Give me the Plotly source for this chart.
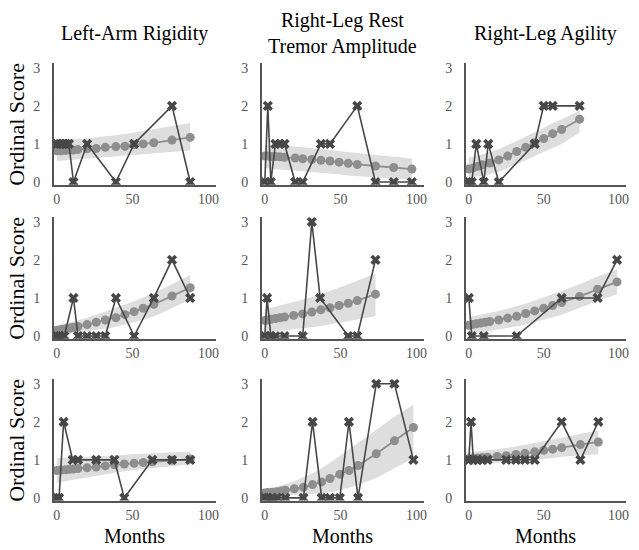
import plotly.graph_objects as go
from plotly.subplots import make_subplots

# ---------------- data ----------------
titles = ["Left-Arm Rigidity", "Right-Leg Rest<br>Tremor Amplitude", "Right-Leg Agility"]
x_ticks = [0, 50, 100]
y_ticks = [0, 1, 2, 3]

# Panel (row, col) data: observed months/values, predicted months/values, band lower/upper
obs_t_11 = [0, 2, 4, 6, 8, 11, 20, 39, 51, 76, 88]
obs_v_11 = [1, 1, 1, 1, 1, 0, 1, 0, 1, 2, 0]
pred_t_11 = [0, 3, 6, 9, 11, 14, 20, 26, 32, 39, 45, 51, 57, 64, 76, 88]
pred_v_11 = [0.82, 0.82, 0.83, 0.84, 0.84, 0.85, 0.87, 0.88, 0.91, 0.93, 0.94, 0.98, 1.0, 1.03, 1.1, 1.17]
lo_11 = [0.55, 0.56, 0.57, 0.58, 0.59, 0.6, 0.62, 0.64, 0.66, 0.68, 0.7, 0.72, 0.74, 0.76, 0.79, 0.83]
hi_11 = [1.1, 1.1, 1.11, 1.12, 1.12, 1.13, 1.15, 1.17, 1.2, 1.23, 1.26, 1.3, 1.33, 1.37, 1.46, 1.55]

obs_t_12 = [0, 2, 4, 7, 10, 13, 20, 25, 37, 43, 61, 73, 85, 97]
obs_v_12 = [0, 2, 0, 1, 1, 1, 0, 0, 1, 1, 2, 0, 0, 0]
pred_t_12 = [0, 2, 4, 7, 10, 13, 20, 25, 31, 37, 43, 49, 55, 61, 73, 85, 97]
pred_v_12 = [0.68, 0.68, 0.67, 0.67, 0.66, 0.65, 0.63, 0.61, 0.59, 0.57, 0.55, 0.52, 0.49, 0.46, 0.42, 0.38, 0.34]
lo_12 = [0.36, 0.36, 0.35, 0.34, 0.33, 0.32, 0.3, 0.28, 0.26, 0.24, 0.22, 0.2, 0.17, 0.15, 0.11, 0.08, 0.05]
hi_12 = [0.98, 0.98, 0.97, 0.96, 0.96, 0.95, 0.93, 0.91, 0.89, 0.87, 0.85, 0.82, 0.79, 0.76, 0.71, 0.66, 0.62]

obs_t_13 = [0, 2, 5, 10, 13, 20, 44, 50, 56, 74]
obs_v_13 = [0, 0, 1, 0, 1, 0, 1, 2, 2, 2]
pred_t_13 = [0, 3, 6, 9, 14, 20, 26, 32, 38, 44, 50, 56, 62, 74]
pred_v_13 = [0.34, 0.37, 0.41, 0.45, 0.5, 0.58, 0.68, 0.8, 0.91, 1.03, 1.14, 1.27, 1.38, 1.65]
lo_13 = [0.1, 0.11, 0.13, 0.16, 0.2, 0.27, 0.36, 0.47, 0.57, 0.68, 0.78, 0.9, 1.0, 1.3]
hi_13 = [0.64, 0.66, 0.69, 0.73, 0.78, 0.86, 0.97, 1.08, 1.19, 1.3, 1.42, 1.55, 1.65, 1.88]

obs_t_21 = [0, 2, 5, 11, 14, 20, 26, 32, 39, 51, 64, 76, 88]
obs_v_21 = [0, 0, 0, 1, 0, 0, 0, 0, 1, 0, 1, 2, 1]
pred_t_21 = [0, 3, 6, 9, 11, 14, 20, 26, 32, 39, 45, 51, 57, 64, 76, 88]
pred_v_21 = [0.15, 0.17, 0.19, 0.21, 0.23, 0.25, 0.3, 0.36, 0.42, 0.48, 0.56, 0.64, 0.73, 0.83, 1.05, 1.27]
lo_21 = [0.03, 0.04, 0.05, 0.06, 0.07, 0.08, 0.11, 0.15, 0.19, 0.24, 0.3, 0.36, 0.43, 0.51, 0.72, 0.95]
hi_21 = [0.28, 0.3, 0.33, 0.36, 0.38, 0.41, 0.48, 0.56, 0.64, 0.73, 0.82, 0.91, 1.01, 1.12, 1.36, 1.6]

obs_t_22 = [0, 1.5, 4, 7, 13, 25, 31, 36.5, 55, 61, 73]
obs_v_22 = [0, 1, 0, 0, 0, 0, 3, 1, 0, 0, 2]
pred_t_22 = [0, 1.5, 4, 7, 10, 13, 19, 25, 31, 37, 43, 49, 55, 61, 73]
pred_v_22 = [0.41, 0.42, 0.44, 0.46, 0.48, 0.5, 0.54, 0.58, 0.63, 0.69, 0.74, 0.8, 0.86, 0.93, 1.1]
lo_22 = [0.1, 0.11, 0.12, 0.13, 0.14, 0.15, 0.17, 0.2, 0.23, 0.26, 0.3, 0.34, 0.38, 0.43, 0.52]
hi_22 = [0.71, 0.72, 0.74, 0.77, 0.8, 0.83, 0.89, 0.95, 1.02, 1.1, 1.18, 1.27, 1.36, 1.45, 1.65]

obs_t_23 = [0, 2, 10, 32, 62, 86, 99]
obs_v_23 = [1, 0, 0, 0, 1, 1, 2]
pred_t_23 = [0, 2.5, 5, 8, 11, 14, 20, 26, 32, 38, 44, 50, 56, 62, 74, 86, 99]
pred_v_23 = [0.28, 0.3, 0.32, 0.34, 0.36, 0.38, 0.42, 0.47, 0.52, 0.59, 0.66, 0.73, 0.8, 0.88, 1.04, 1.23, 1.42]
lo_23 = [0.08, 0.09, 0.1, 0.11, 0.12, 0.14, 0.17, 0.21, 0.25, 0.3, 0.36, 0.42, 0.49, 0.56, 0.73, 0.92, 1.1]
hi_23 = [0.5, 0.52, 0.54, 0.56, 0.58, 0.6, 0.66, 0.72, 0.78, 0.85, 0.93, 1.01, 1.09, 1.18, 1.36, 1.56, 1.75]

obs_t_31 = [0, 1.5, 4.5, 10.5, 14, 26, 38, 44.5, 63, 76, 88]
obs_v_31 = [0, 0, 2, 1, 1, 1, 1, 0, 1, 1, 1]
pred_t_31 = [0, 3, 6, 8.5, 11, 14, 20, 26, 32, 38, 44.5, 51, 57, 63, 76, 88]
pred_v_31 = [0.72, 0.73, 0.74, 0.75, 0.76, 0.77, 0.79, 0.81, 0.84, 0.87, 0.89, 0.91, 0.93, 0.95, 0.99, 1.02]
lo_31 = [0.4, 0.42, 0.44, 0.46, 0.48, 0.5, 0.54, 0.58, 0.62, 0.66, 0.7, 0.73, 0.76, 0.79, 0.84, 0.88]
hi_31 = [1.05, 1.05, 1.05, 1.06, 1.06, 1.07, 1.08, 1.09, 1.1, 1.12, 1.13, 1.14, 1.16, 1.17, 1.2, 1.22]

obs_t_32 = [0, 2, 5, 8, 13.5, 25.5, 31.5, 37.5, 43, 49.5, 55.5, 61.5, 73.5, 85.5, 98]
obs_v_32 = [0, 0, 0, 0, 0, 0, 2, 0, 0, 0, 2, 0, 3, 3, 1]
pred_t_32 = [0, 2, 5, 8, 11, 13.5, 19.5, 25.5, 31.5, 37.5, 43, 49.5, 55.5, 61.5, 73.5, 85.5, 98]
pred_v_32 = [0.13, 0.14, 0.15, 0.16, 0.18, 0.2, 0.24, 0.28, 0.35, 0.42, 0.51, 0.62, 0.72, 0.85, 1.16, 1.5, 1.85]
lo_32 = [0.06, 0.06, 0.06, 0.06, 0.07, 0.07, 0.08, 0.09, 0.1, 0.12, 0.15, 0.2, 0.26, 0.33, 0.52, 0.78, 1.05]
hi_32 = [0.22, 0.24, 0.26, 0.29, 0.32, 0.35, 0.44, 0.54, 0.65, 0.78, 0.92, 1.1, 1.27, 1.44, 1.8, 2.13, 2.45]

obs_t_33 = [0, 1.5, 3, 6, 9, 12.5, 25, 31.5, 37.5, 44, 62, 74.5, 86.5]
obs_v_33 = [1, 2, 1, 1, 1, 1, 1, 1, 1, 1, 2, 1, 2]
pred_t_33 = [0, 3, 6, 9, 12.5, 19, 25, 31.5, 37.5, 44, 50, 56, 62, 74.5, 86.5]
pred_v_33 = [1.03, 1.04, 1.05, 1.06, 1.07, 1.09, 1.11, 1.14, 1.17, 1.21, 1.25, 1.28, 1.32, 1.4, 1.47]
lo_33 = [0.85, 0.86, 0.87, 0.88, 0.89, 0.91, 0.93, 0.95, 0.98, 1.0, 1.03, 1.05, 1.08, 1.12, 1.15]
hi_33 = [1.2, 1.21, 1.22, 1.23, 1.25, 1.28, 1.31, 1.35, 1.39, 1.44, 1.49, 1.54, 1.59, 1.68, 1.78]

panels = {
    (1, 1): (obs_t_11, obs_v_11, pred_t_11, pred_v_11, lo_11, hi_11),
    (1, 2): (obs_t_12, obs_v_12, pred_t_12, pred_v_12, lo_12, hi_12),
    (1, 3): (obs_t_13, obs_v_13, pred_t_13, pred_v_13, lo_13, hi_13),
    (2, 1): (obs_t_21, obs_v_21, pred_t_21, pred_v_21, lo_21, hi_21),
    (2, 2): (obs_t_22, obs_v_22, pred_t_22, pred_v_22, lo_22, hi_22),
    (2, 3): (obs_t_23, obs_v_23, pred_t_23, pred_v_23, lo_23, hi_23),
    (3, 1): (obs_t_31, obs_v_31, pred_t_31, pred_v_31, lo_31, hi_31),
    (3, 2): (obs_t_32, obs_v_32, pred_t_32, pred_v_32, lo_32, hi_32),
    (3, 3): (obs_t_33, obs_v_33, pred_t_33, pred_v_33, lo_33, hi_33),
}

# ---------------- figure ----------------
W, H = 639, 550
FONT = "Liberation Serif, Times New Roman, serif"
OBS_C = "#474747"
PRED_C = "#8e8e8e"
BAND_C = "#dedede"
AX_C = "#555555"

fig = make_subplots(rows=3, cols=3)

for (r, c), (ot, ov, pt, pv, lo, hi) in panels.items():
    fig.add_trace(go.Scatter(x=list(pt) + list(pt)[::-1], y=list(hi) + list(lo)[::-1],
                             fill="toself", fillcolor=BAND_C, line=dict(width=0),
                             mode="lines", hoverinfo="skip"), row=r, col=c)
    fig.add_trace(go.Scatter(x=pt, y=pv, mode="lines+markers",
                             line=dict(color=PRED_C, width=1.8),
                             marker=dict(symbol="circle", size=9, color=PRED_C)), row=r, col=c)
    fig.add_trace(go.Scatter(x=ot, y=ov, mode="lines+markers",
                             line=dict(color=OBS_C, width=1.6),
                             marker=dict(symbol="x", size=9, color=OBS_C)), row=r, col=c)

col_px = [(54, 217), (263, 426), (468, 629)]
row_px = [(62, 185), (218, 341), (382, 505)]

for r in range(1, 4):
    for c in range(1, 4):
        x0, x1 = col_px[c - 1]
        t0, t1 = row_px[r - 1]
        fig.update_xaxes(domain=[x0 / W, x1 / W], range=[-2, 105], tickvals=x_ticks,
                         showgrid=False, zeroline=False, showline=True, linecolor=AX_C,
                         linewidth=1.5, ticks="outside", ticklen=1, tickcolor="rgba(0,0,0,0)",
                         ticklabeloverflow="allow",
                         tickfont=dict(family=FONT, size=14, color=AX_C), row=r, col=c)
        fig.update_yaxes(domain=[1 - t1 / H, 1 - t0 / H], range=[-0.07, 3.12], tickvals=y_ticks,
                         showgrid=False, zeroline=False, showline=True, linecolor=AX_C,
                         linewidth=1.5, ticks="outside", ticklen=9, tickcolor="rgba(0,0,0,0)",
                         tickfont=dict(family=FONT, size=14, color=AX_C), row=r, col=c)

annotations = []
for i, t in enumerate(titles):
    cx = (col_px[i][0] + col_px[i][1]) / 2 / W
    annotations.append(dict(text=t, x=cx, y=1 - 32 / H, xref="paper", yref="paper",
                            showarrow=False, xanchor="center", yanchor="middle",
                            font=dict(family=FONT, size=20, color="black")))
    annotations.append(dict(text="Months", x=cx, y=1 - 541 / H, xref="paper", yref="paper",
                            showarrow=False, xanchor="center", yanchor="middle",
                            font=dict(family=FONT, size=20, color="black")))
for j in range(3):
    cy = 1 - (row_px[j][0] + row_px[j][1]) / 2 / H
    annotations.append(dict(text="Ordinal Score", x=17 / W, y=cy, xref="paper", yref="paper",
                            showarrow=False, xanchor="center", yanchor="middle", textangle=-90,
                            font=dict(family=FONT, size=22, color="black")))

fig.update_layout(width=W, height=H, margin=dict(l=0, r=0, t=0, b=0),
                  plot_bgcolor="white", paper_bgcolor="white", showlegend=False,
                  annotations=annotations)

fig.write_html("out.html", config={"displayModeBar": False},
               post_script="document.body.style.margin='0px';document.body.style.overflow='hidden';")
